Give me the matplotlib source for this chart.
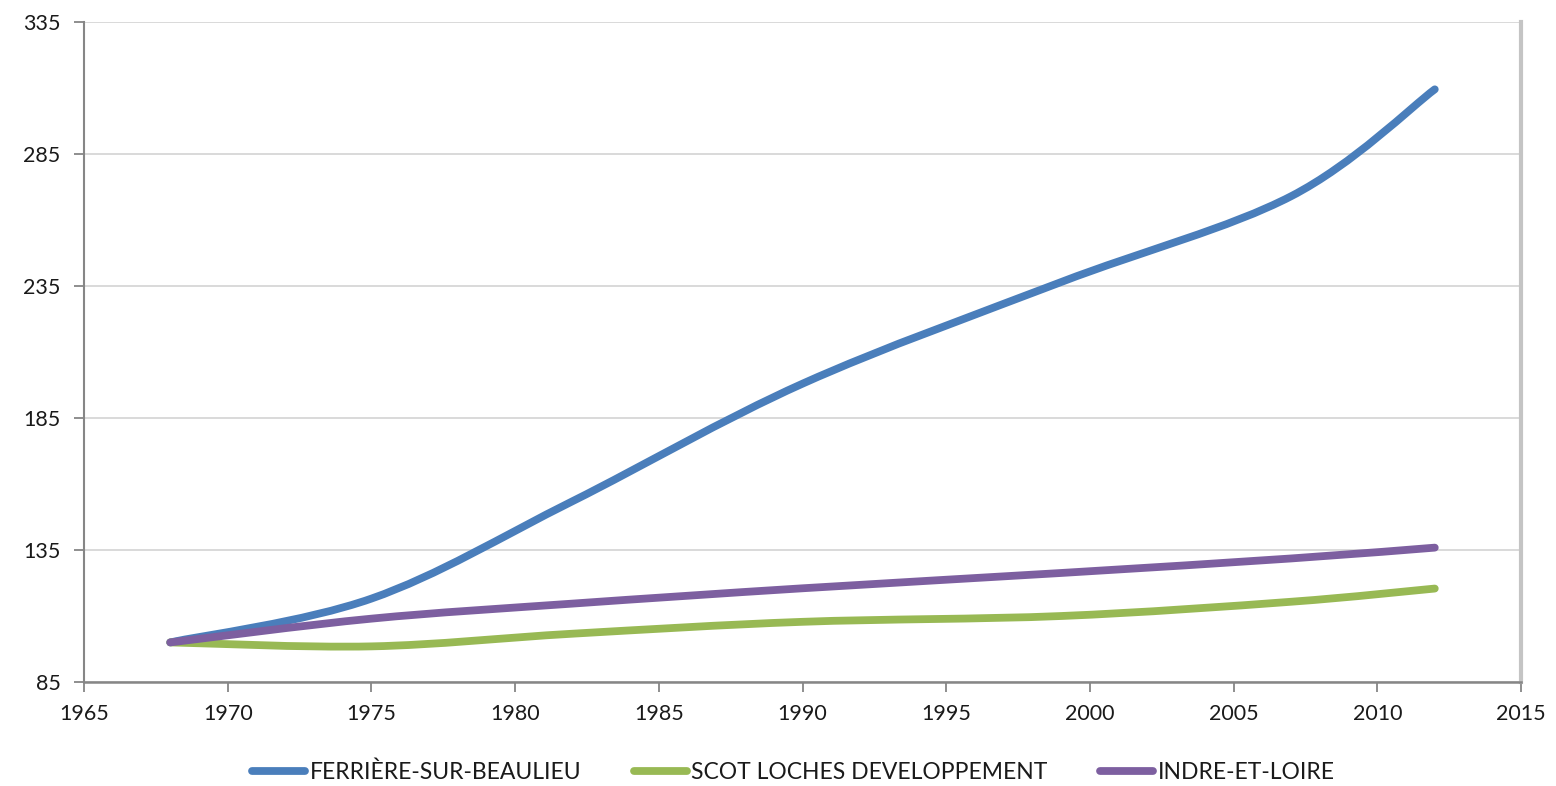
import matplotlib
matplotlib.use("Agg")
import matplotlib.pyplot as plt
from matplotlib.path import Path
from matplotlib.patches import PathPatch
from matplotlib.lines import Line2D

years = [1968, 1975, 1982, 1990, 1999, 2007, 2012]
ferriere = [100, 116.6, 153.5, 198, 236.5, 269, 309.5]
scot = [100, 98.5, 103.3, 107.8, 110, 115.4, 120.4]
indre = [100, 109, 114.7, 120.5, 126.3, 131.8, 135.9]
series_names = ["FERRIÈRE-SUR-BEAULIEU", "SCOT LOCHES DEVELOPPEMENT", "INDRE-ET-LOIRE"]
x_ticks = [1965, 1970, 1975, 1980, 1985, 1990, 1995, 2000, 2005, 2010, 2015]
y_ticks = [85, 135, 185, 235, 285, 335]

colors = ["#4a7ebb", "#98b954", "#7d5fa0"]

plt.rcParams['font.family'] = ['Lato', 'DejaVu Sans']

fig = plt.figure(figsize=(15.56, 7.86), dpi=100)
ax = fig.add_axes([0.054, 0.1323, 0.9235, 0.8397])


def smooth_path(xs, ys):
    pts = list(zip(xs, ys))
    n = len(pts)
    verts = [pts[0]]
    codes = [Path.MOVETO]
    for i in range(n - 1):
        p0 = pts[i - 1] if i > 0 else pts[i]
        p1 = pts[i]
        p2 = pts[i + 1]
        p3 = pts[i + 2] if i + 2 < n else pts[i + 1]
        c1 = (p1[0] + (p2[0] - p0[0]) / 6.0, p1[1] + (p2[1] - p0[1]) / 6.0)
        c2 = (p2[0] - (p3[0] - p1[0]) / 6.0, p2[1] - (p3[1] - p1[1]) / 6.0)
        verts += [c1, c2, p2]
        codes += [Path.CURVE4] * 3
    return Path(verts, codes)


handles = []
for vals, col, name in zip([ferriere, scot, indre], colors, series_names):
    patch = PathPatch(smooth_path(years, vals), fill=False, edgecolor=col,
                      linewidth=5.6, capstyle='round', joinstyle='round', zorder=3)
    ax.add_patch(patch)
    handles.append(Line2D([], [], color=col, linewidth=5.6,
                          solid_capstyle='round', label=name))

ax.set_xlim(1965, 2015)
ax.set_ylim(85, 335)
ax.set_xticks(x_ticks)
ax.set_yticks(y_ticks)
ax.yaxis.grid(True, color="#d9d9d9", linewidth=1.4)
ax.set_axisbelow(True)

ax.spines['top'].set_visible(False)
ax.spines['right'].set_color('#c4c4c4')
ax.spines['right'].set_linewidth(3)
ax.spines['left'].set_color('#868686')
ax.spines['left'].set_linewidth(1.5)
ax.spines['bottom'].set_color('#868686')
ax.spines['bottom'].set_linewidth(1.8)

ax.tick_params(axis='both', direction='out', length=7, width=1.3, color='#868686',
               labelsize=15.5, labelcolor='#1a1a1a')
ax.tick_params(axis='x', pad=9)
ax.tick_params(axis='y', pad=10)

leg = fig.legend(handles=handles, loc='center', bbox_to_anchor=(0.51, 0.018),
                 ncol=3, frameon=False, fontsize=16.5, handlelength=2.3,
                 handletextpad=0.2, columnspacing=2.3, labelcolor='#1a1a1a')

fig.savefig("out.png", dpi=100)
